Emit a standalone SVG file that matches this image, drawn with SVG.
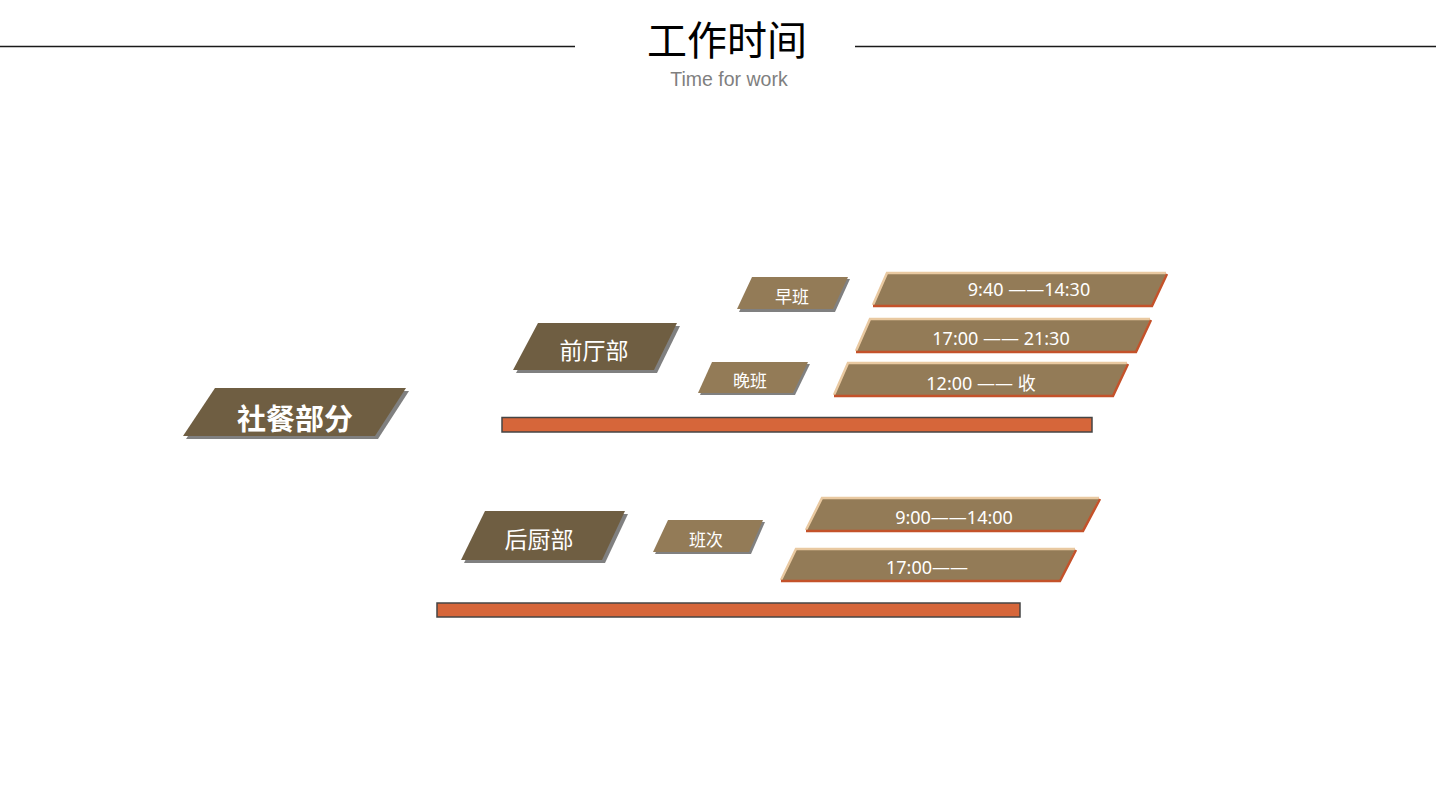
<svg xmlns="http://www.w3.org/2000/svg" width="1440" height="810" viewBox="0 0 1440 810">
<style>
.cn{font-family:"Noto Sans CJK SC","Noto Sans",sans-serif;fill:#fff;text-anchor:middle}
.tm{font-family:"Noto Sans","Noto Sans CJK SC",sans-serif;fill:#fff;text-anchor:middle;font-size:18px}
.dark{fill:#6f5e42}
.light{fill:#937b57}
.shadow{fill:#808080}
.tl{fill:none;stroke:#e9c9a1;stroke-width:2.5}
.br{fill:none;stroke:#c4522a;stroke-width:2.5}
.bar{fill:#d6663a;stroke:#454545;stroke-width:1.5}
</style>
<rect width="1440" height="810" fill="#fff"/>
<g id="title">
<line x1="0" y1="46.5" x2="575" y2="46.5" stroke="#1a1a1a" stroke-width="1.5"/>
<line x1="855" y1="46.5" x2="1436" y2="46.5" stroke="#1a1a1a" stroke-width="1.5"/>
<text x="727" y="55" font-family="Noto Sans CJK SC,sans-serif" font-size="40" text-anchor="middle" fill="#000">工作时间</text>
<text x="729" y="86" font-family="Liberation Sans,Arial,sans-serif" font-size="19.5" text-anchor="middle" fill="#7f7f7f">Time for work</text>
</g>
<g id="connectors"></g>
<g id="shecan">
<polygon class="shadow" points="218,391 409,391 378,439 186,439"/>
<polygon class="dark" points="215,388 406,388 375,436 183,436"/>
<text class="cn" x="295" y="430" font-size="29" font-weight="bold">社餐部分</text>
</g>
<g id="qianting">
<polygon class="shadow" points="541,326 680,326 657,373 516,373"/>
<polygon class="dark" points="538,323 677,323 654,370 513,370"/>
<text class="cn" x="594" y="359" font-size="23">前厅部</text>
</g>
<g id="zaoban">
<polygon class="shadow" points="754,279 850,279 835,312 739,312"/>
<polygon class="light" points="752,277 848,277 833,309 737,309"/>
<text class="cn" x="792" y="303" font-size="17">早班</text>
</g>
<g id="wanban">
<polygon class="shadow" points="714,364 810,364 795,395 700,395"/>
<polygon class="light" points="712,362 808,362 793,393 698,393"/>
<text class="cn" x="750" y="387" font-size="17">晚班</text>
</g>
<g id="t1">
<polygon class="light" points="887,274 1166,274 1152,306 873,306"/>
<polyline class="tl" points="873,305 887,273 1166,273"/>
<polyline class="br" points="1167,274 1152,306 873,306"/>
<text class="tm" x="1029" y="296">9:40 ——14:30</text>
</g>
<g id="t2">
<polygon class="light" points="870,320 1150,320 1136,352 856,352"/>
<polyline class="tl" points="856,351 870,319 1150,319"/>
<polyline class="br" points="1151,320 1136,352 856,352"/>
<text class="tm" x="1001" y="345">17:00 —— 21:30</text>
</g>
<g id="t3">
<polygon class="light" points="848,364 1127,364 1113,396 834,396"/>
<polyline class="tl" points="834,395 848,363 1127,363"/>
<polyline class="br" points="1128,364 1113,396 834,396"/>
<text class="tm" x="981" y="390">12:00 —— 收</text>
</g>
<g id="bar1"><rect class="bar" x="502" y="417.5" width="590" height="14.5"/></g>
<g id="houchu">
<polygon class="shadow" points="488,514 628,514 605,563 464,563"/>
<polygon class="dark" points="485,511 625,511 602,560 461,560"/>
<text class="cn" x="539" y="548" font-size="23">后厨部</text>
</g>
<g id="banci">
<polygon class="shadow" points="670,522 765,522 751,554 655,554"/>
<polygon class="light" points="668,520 763,520 749,552 653,552"/>
<text class="cn" x="706" y="546" font-size="17">班次</text>
</g>
<g id="t4">
<polygon class="light" points="822,499 1099,499 1083,531 806,531"/>
<polyline class="tl" points="806,530 822,498 1099,498"/>
<polyline class="br" points="1100,499 1083,531 806,531"/>
<text class="tm" x="954" y="524">9:00——14:00</text>
</g>
<g id="t5">
<polygon class="light" points="796,550 1075,550 1060,581 781,581"/>
<polyline class="tl" points="781,580 796,549 1075,549"/>
<polyline class="br" points="1076,550 1060,581 781,581"/>
<text class="tm" x="927" y="574">17:00——</text>
<text class="tm" x="927" y="599">21:30</text>
</g>
<g id="bar2"><rect class="bar" x="437" y="603" width="583" height="14"/></g>
</svg>
